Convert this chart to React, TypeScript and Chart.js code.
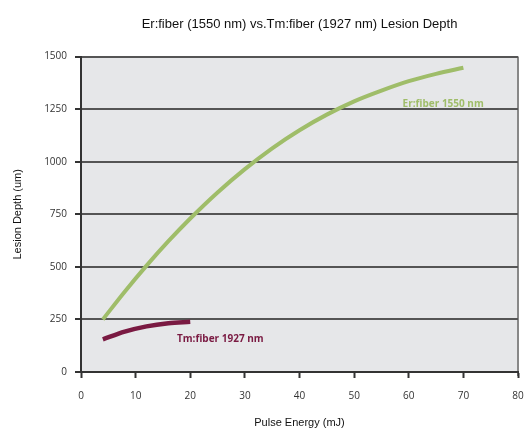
import React, { useEffect, useRef } from "react";
import { Chart, registerables } from "chart.js";

Chart.register(...registerables);

const titleText = "Er:fiber (1550 nm) vs.Tm:fiber (1927 nm) Lesion Depth";
const xTitle = "Pulse Energy (mJ)";
const yTitle = "Lesion Depth (um)";

const erName = "Er:fiber 1550 nm";
const erX = [4, 8, 12, 16, 20, 25, 30, 35, 40, 45, 50, 55, 60, 65, 70];
const erY = [250, 382, 506, 622, 730, 854, 965, 1064, 1150, 1224, 1287, 1338, 1383, 1418, 1447];

const tmName = "Tm:fiber 1927 nm";
const tmX = [4, 8, 12, 16, 20];
const tmY = [155, 192, 217, 232, 239];

// label anchor positions in data units
const erLabelPos = [66.3, 1273];
const tmLabelPos = [25.5, 156];

const xMin = 0, xMax = 80, xStep = 10;
const yMin = 0, yMax = 1500, yStep = 250;

const erColor = "#9fbd69";
const tmColor = "#7a1a42";

export default function App() {
  const ref = useRef<HTMLCanvasElement | null>(null);

  useEffect(() => {
    if (!ref.current) return;
    const plotBg = {
      id: "plotBg",
      beforeDraw(chart: any) {
        const { ctx, chartArea: a } = chart;
        ctx.save();
        ctx.fillStyle = "#e6e7e9";
        ctx.fillRect(a.left, a.top, a.right - a.left, a.bottom - a.top);
        ctx.strokeStyle = "#888888";
        ctx.lineWidth = 2;
        ctx.beginPath();
        ctx.moveTo(a.right, a.top);
        ctx.lineTo(a.right, a.bottom + 4);
        ctx.stroke();
        ctx.restore();
      },
      afterDatasetsDraw(chart: any) {
        const { ctx, scales } = chart;
        ctx.save();
        ctx.font = "bold 10px 'Open Sans'";
        ctx.textAlign = "center";
        ctx.textBaseline = "middle";
        ctx.fillStyle = erColor;
        ctx.fillText(erName, scales.x.getPixelForValue(erLabelPos[0]), scales.y.getPixelForValue(erLabelPos[1]));
        ctx.fillStyle = tmColor;
        ctx.fillText(tmName, scales.x.getPixelForValue(tmLabelPos[0]), scales.y.getPixelForValue(tmLabelPos[1]));
        ctx.restore();
      },
    };

    const chart = new Chart(ref.current, {
      type: "line",
      data: {
        datasets: [
          {
            label: erName,
            data: erX.map((x, i) => ({ x, y: erY[i] })),
            borderColor: erColor,
            borderWidth: 4,
            pointRadius: 0,
            tension: 0.4,
            cubicInterpolationMode: "monotone",
            fill: false,
          },
          {
            label: tmName,
            data: tmX.map((x, i) => ({ x, y: tmY[i] })),
            borderColor: tmColor,
            borderWidth: 4.5,
            pointRadius: 0,
            tension: 0.4,
            cubicInterpolationMode: "monotone",
            fill: false,
          },
        ],
      },
      options: {
        responsive: false,
        animation: false,
        layout: { padding: { left: 0, right: 7, top: 0, bottom: 0 } },
        plugins: {
          legend: { display: false },
          tooltip: { enabled: false },
          title: {
            display: true,
            text: titleText,
            fullSize: false,
            color: "#111",
            font: { family: "'Liberation Sans', Arial", size: 13, weight: "normal" },
            padding: { top: 17, bottom: 24 },
          },
        },
        scales: {
          x: {
            type: "linear",
            min: xMin,
            max: xMax,
            afterFit(scale: any) {
              scale.height = 58;
              scale.paddingLeft = 0;
              scale.paddingRight = 0;
            },
            ticks: {
              stepSize: xStep,
              color: "#333",
              font: { family: "'Open Sans'", size: 10 },
              padding: 12,
              maxRotation: 0,
              callback: (v: any) => String(v),
            },
            grid: {
              display: true,
              drawOnChartArea: false,
              drawTicks: true,
              tickLength: 6,
              tickColor: "#333",
              tickWidth: 2,
            },
            border: { display: true, color: "#333", width: 2 },
            title: {
              display: true,
              text: xTitle,
              color: "#111",
              font: { family: "'Liberation Sans', Arial", size: 11 },
              padding: { top: 6, bottom: 0 },
            },
          },
          y: {
            type: "linear",
            min: yMin,
            max: yMax,
            afterFit(scale: any) {
              scale.width = 81;
              scale.paddingTop = 0;
              scale.paddingBottom = 0;
            },
            ticks: {
              stepSize: yStep,
              color: "#333",
              font: { family: "'Open Sans'", size: 10 },
              padding: 8,
              callback: (v: any) => String(v),
            },
            grid: {
              color: "#555",
              lineWidth: 2,
              drawTicks: true,
              tickLength: 6,
              tickColor: "#333",
            },
            border: { display: true, color: "#333", width: 2 },
            title: {
              display: true,
              text: yTitle,
              color: "#111",
              font: { family: "'Liberation Sans', Arial", size: 11 },
              padding: { top: 11, bottom: 4 },
            },
          },
        },
      },
      plugins: [plotBg],
    } as any);
    return () => chart.destroy();
  }, []);

  return (
    <div style={{ position: "fixed", left: 0, top: 0, width: 525, height: 430, background: "#fff" }}>
      <canvas ref={ref} width={525} height={430} style={{ width: 525, height: 430 }} />
    </div>
  );
}
